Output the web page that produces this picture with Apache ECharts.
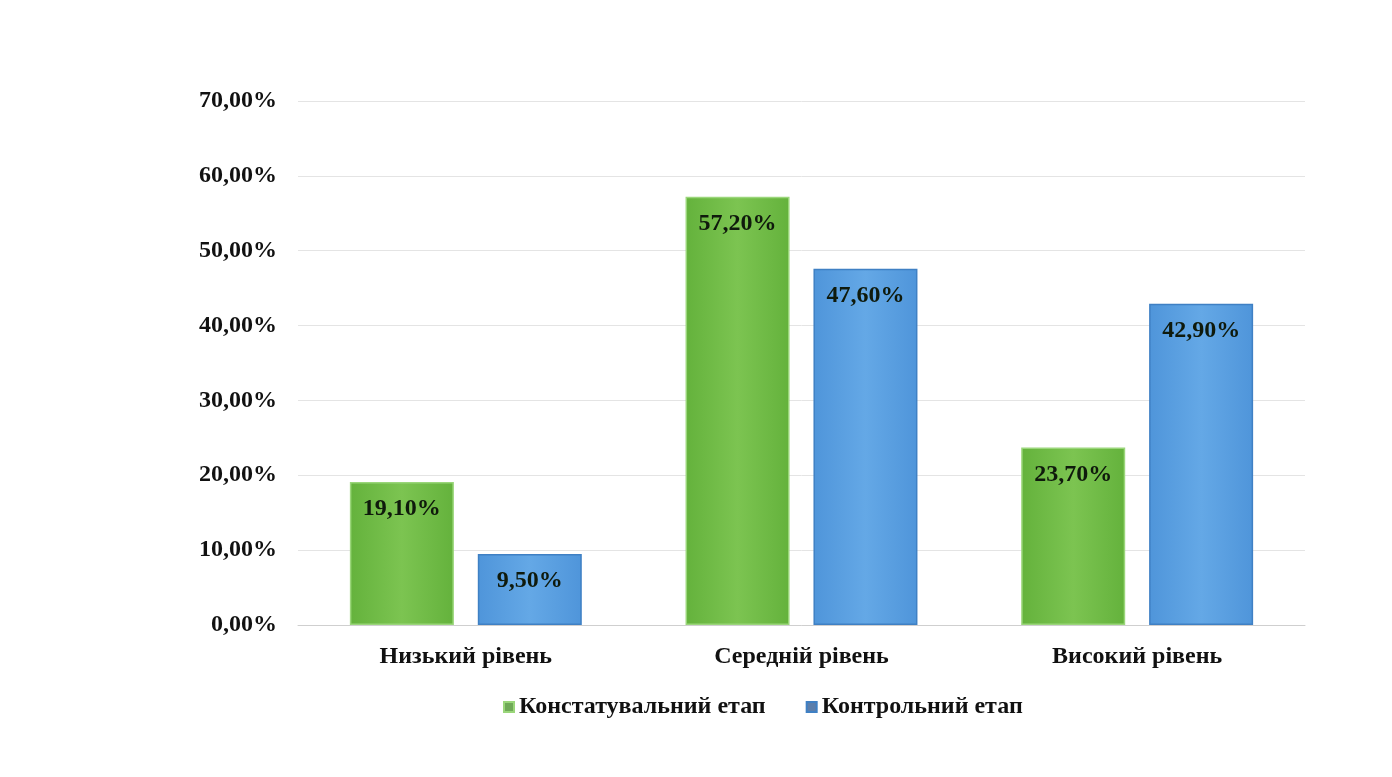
<!DOCTYPE html>
<html>
<head>
<meta charset="utf-8">
<script src="https://cdn.jsdelivr.net/npm/echarts@6/dist/echarts.min.js"></script>
<style>
  html, body { margin: 0; padding: 0; background: #fff; }
  #chart { width: 1392px; height: 777px; }
</style>
</head>
<body>
<div id="chart"></div>
<script>
const categories = ['Низький рівень', 'Середній рівень', 'Високий рівень']
const seriesNames = ['Констатувальний етап', 'Контрольний етап']
const stageA = [19.1, 57.2, 23.7]
const stageB = [9.5, 47.6, 42.9]
const yTicks = { min: 0, max: 70, interval: 10 }

const font = '"Liberation Serif", "Times New Roman", serif'
const pct = (v) => v.toFixed(2).replace('.', ',') + '%'

const chart = echarts.init(document.getElementById('chart'), null, { renderer: 'canvas' })

function barSeries(name, data, fill, border) {
  return {
    name,
    type: 'bar',
    data,
    barWidth: 104,
    barGap: '23%',
    itemStyle: {
      color: new echarts.graphic.LinearGradient(0, 0, 1, 0, [
        { offset: 0, color: fill[0] },
        { offset: 0.5, color: fill[1] },
        { offset: 1, color: fill[0] },
      ]),
      borderColor: border,
      borderWidth: 1.5,
    },
    label: {
      show: true,
      position: 'insideTop',
      distance: 15,
      formatter: (p) => pct(p.value),
      color: '#0f1a0c',
      fontFamily: font,
      fontWeight: 'bold',
      fontSize: 24,
    },
  }
}

chart.setOption({
  backgroundColor: '#fff',
  animation: false,
  grid: { left: 298, right: 87, top: 101, bottom: 152 },
  legend: {
    top: 690,
    left: 498,
    itemWidth: 10,
    itemHeight: 10,
    itemGap: 40,
    icon: 'rect',
    textStyle: { fontFamily: font, fontWeight: 'bold', fontSize: 24, color: '#111' },
    data: [
      { name: seriesNames[0], itemStyle: { color: '#6fa957' } },
      { name: seriesNames[1], itemStyle: { color: '#5b7eab' } },
    ],
  },
  xAxis: {
    type: 'category',
    data: categories,
    axisLine: { lineStyle: { color: '#cfcfcf', width: 1 } },
    axisTick: { show: false },
    axisLabel: {
      margin: 20,
      color: '#111',
      fontFamily: font,
      fontWeight: 'bold',
      fontSize: 24,
    },
  },
  yAxis: {
    type: 'value',
    min: yTicks.min,
    max: yTicks.max,
    interval: yTicks.interval,
    axisLine: { show: false },
    axisTick: { show: false },
    splitLine: { lineStyle: { color: '#e4e4e4', width: 1 } },
    axisLabel: {
      margin: 21,
      color: '#111',
      fontFamily: font,
      fontWeight: 'bold',
      fontSize: 24,
      formatter: (v) => pct(v),
    },
  },
  series: [
    barSeries(seriesNames[0], stageA, ['#64b23c', '#7cc451'], '#9ad67a'),
    barSeries(seriesNames[1], stageB, ['#4f95da', '#64a8e6'], '#3f80c4'),
  ],
})
</script>
</body>
</html>
